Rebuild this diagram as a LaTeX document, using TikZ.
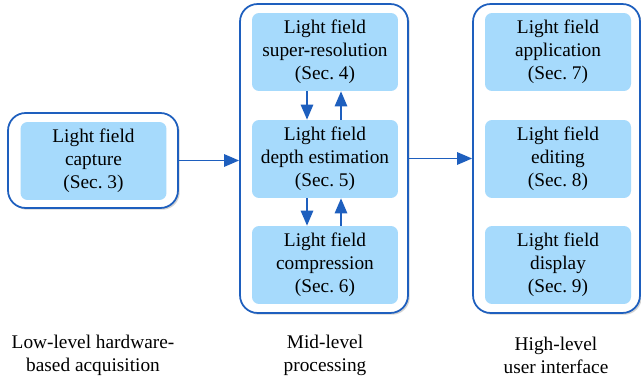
\documentclass[tikz,border=0pt]{standalone}
\usepackage{fontspec}
\setmainfont{Liberation Serif}
\usetikzlibrary{arrows.meta,shadows}
\definecolor{lfblue}{RGB}{166,218,252}
\definecolor{lfdark}{RGB}{30,95,190}
\tikzset{
  stage/.style={draw=lfdark, line width=1pt, rounded corners=10pt, fill=white,
    drop shadow={shadow xshift=1pt, shadow yshift=-1pt, fill=black!35}},
  topic/.style={fill=lfblue, rounded corners=4pt, align=center,
    minimum width=2.92cm, minimum height=1.56cm, inner sep=1pt,
    font=\fontsize{11}{13}\selectfont},
  level/.style={align=center, font=\fontsize{11}{13}\selectfont},
  flow/.style={draw=lfdark, line width=1pt, -{Triangle[length=8.5pt,width=7pt]}}
}
\begin{document}
\begin{tikzpicture}[x=0.02cm, y=-0.02cm]
        \useasboundingbox (0, 0) rectangle (641, 381);
        % stages
        \node[stage, minimum width=3.4cm, minimum height=1.9cm] (low) at (93, 160.5) {};
        \node[stage, minimum width=3.36cm, minimum height=6.18cm] (mid) at (324, 158.5) {};
        \node[stage, minimum width=3.34cm, minimum height=6.18cm] (high) at (556.5, 158.5) {};
        % topics
        \node[topic] (cap) at (93.5, 161) {Light field\\capture\\(Sec.~3)};
        \node[topic] (sr) at (325, 52) {Light field\\super-resolution\\(Sec.~4)};
        \node[topic] (de) at (325, 159) {Light field\\depth estimation\\(Sec.~5)};
        \node[topic] (cmp) at (325, 265) {Light field\\compression\\(Sec.~6)};
        \node[topic] (app) at (558, 52) {Light field\\application\\(Sec.~7)};
        \node[topic] (edt) at (558, 159) {Light field\\editing\\(Sec.~8)};
        \node[topic] (dsp) at (558, 265) {Light field\\display\\(Sec.~9)};
        % connectors
        \draw[flow] (low.east) -- (low.east -| mid.west);
        \draw[flow] (mid.east) -- (mid.east -| high.west);
        \foreach \a/\b in {sr/de, de/cmp} {
            \draw[flow] ([xshift=-0.36cm]\a.south) -- ([xshift=-0.36cm]\b.north);
            \draw[flow] ([xshift=0.32cm]\b.north) -- ([xshift=0.32cm]\a.south);
        }
        % levels
        \node[level] (lowtxt) at (93, 355) {Low-level hardware-\\based acquisition};
        \node[level] (midtxt) at (325, 355) {Mid-level\\processing};
        \node[level] (hightxt) at (556, 355) {High-level\\user interface};
    \end{tikzpicture}
\end{document}
